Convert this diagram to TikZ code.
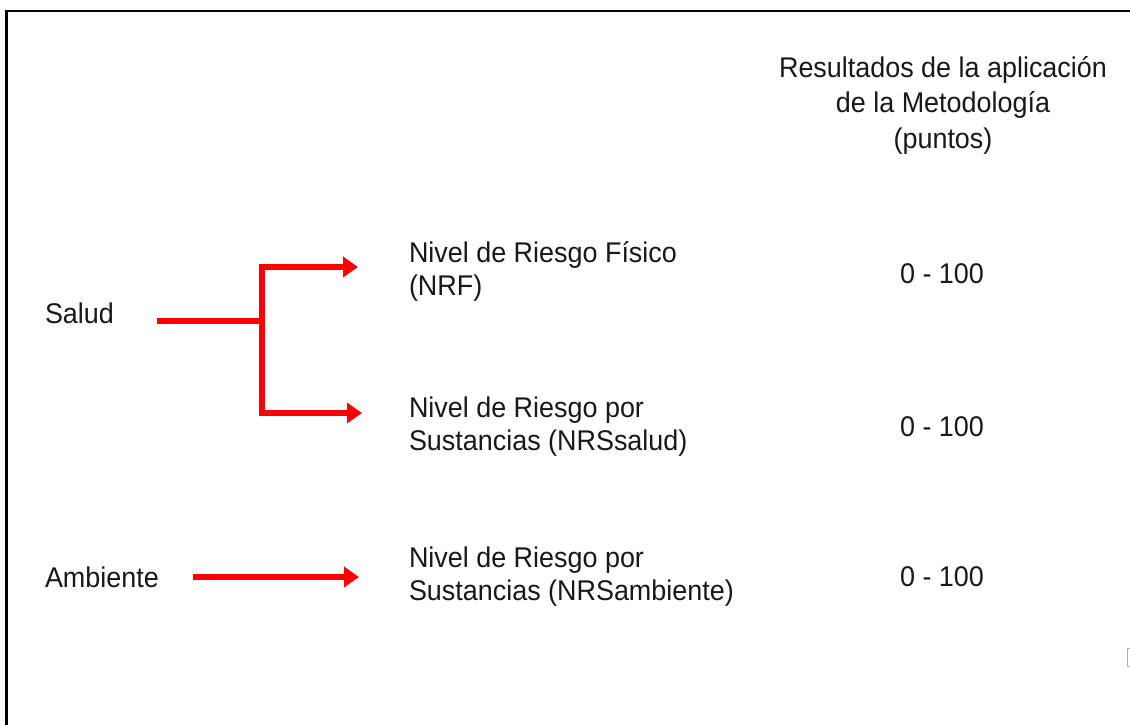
\documentclass[tikz,border=0pt]{standalone}
\usepackage{fontspec}
\setmainfont[FakeStretch=0.945]{Liberation Sans}
\usetikzlibrary{arrows.meta}
\begin{document}
\begin{tikzpicture}[x=1pt,y=-1pt,
  lbl/.style={inner sep=0pt, outer sep=0pt, font=\fontsize{28.5}{33}\selectfont, text=black!90},
  redarrow/.style={draw=red, line width=6pt, -{Triangle[length=15pt,width=20pt]}},
  redline/.style={draw=red, line width=6pt}]
\useasboundingbox (0,0) rectangle (1130,725);
\fill[white] (0,0) rectangle (1130,725);
% frame
\draw[line width=2.5pt, black] (6.5,760) -- (6.5,11) -- (1160,11);
% faint mark at right edge
\draw[gray!60, line width=1pt] (1131,648.5) -- (1127.5,648.5) -- (1127.5,666.5) -- (1131,666.5);
% header
\node[lbl, align=center, anchor=base, font=\fontsize{28.5}{35.5}\selectfont] (hdr) at (943,148) {Resultados de la aplicación\\de la Metodología\\(puntos)};
% left labels
\node[lbl, anchor=base west] (salud) at (45,323) {Salud};
\node[lbl, anchor=base west] (amb) at (45,587) {Ambiente};
% middle labels
\node[lbl, align=left, anchor=base west] (nrf) at (409,295) {Nivel de Riesgo Físico\\(NRF)};
\node[lbl, align=left, anchor=base west] (nrss) at (409,450) {Nivel de Riesgo por\\Sustancias (NRSsalud)};
\node[lbl, align=left, anchor=base west] (nrsa) at (409,600) {Nivel de Riesgo por\\Sustancias (NRSambiente)};
% values
\node[lbl, anchor=base] (v1) at (942,283) {0 - 100};
\node[lbl, anchor=base] (v2) at (942,436) {0 - 100};
\node[lbl, anchor=base] (v3) at (942,586) {0 - 100};
% connector points
\coordinate (s0) at (157,321);
\coordinate (j) at (259,321);
\coordinate (t1) at (358,267);
\coordinate (t2) at (362,413);
\coordinate (a0) at (193,577);
\coordinate (t3) at (359,577);
% connectors
\draw[redline] (s0) -- (j);
\draw[redarrow] ([xshift=3pt]j) |- (t1);
\draw[redarrow] ([xshift=3pt]j) |- (t2);
\draw[redarrow] (a0) -- (t3);
\end{tikzpicture}
\end{document}
